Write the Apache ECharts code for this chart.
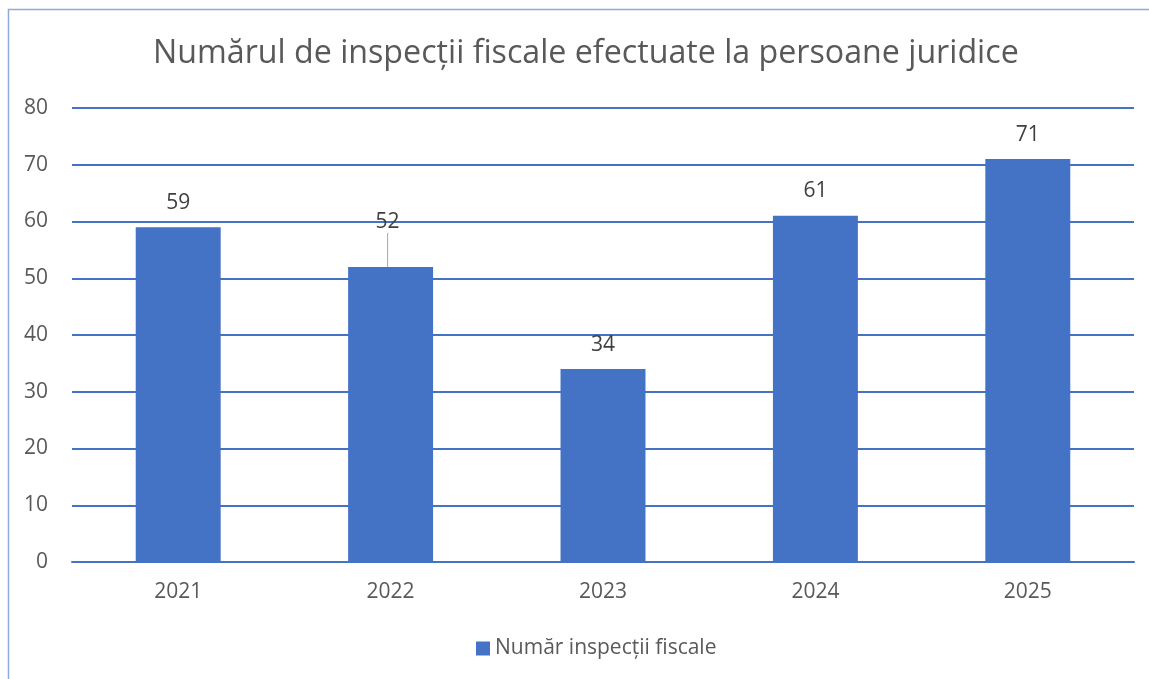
<!DOCTYPE html>
<html>
<head>
<meta charset="utf-8">
<script src="https://cdn.jsdelivr.net/npm/echarts@6/dist/echarts.min.js"></script>
<style>
  html, body { margin: 0; padding: 0; background: #fff; }
  #chart { width: 1149px; height: 679px; }
</style>
</head>
<body>
<div id="chart"></div>
<script>
// data
var years = ['2021', '2022', '2023', '2024', '2025'];
var inspectii = [59, 52, 34, 61, 71];
var yTicks = { min: 0, max: 80, step: 10 };

var myChart = echarts.init(document.getElementById('chart'));

var barData = inspectii.map(function (v, i) {
  var item = { value: v };
  // the 2022 label sits higher with a leader line
  if (i === 1) {
    item.labelLine = { show: true, lineStyle: { color: '#A6A6A6', width: 1 } };
  }
  return item;
});

var option = {
  backgroundColor: '#fff',
  textStyle: { fontFamily: 'Open Sans' },
  title: {
    text: 'Numărul de inspecții fiscale efectuate la persoane juridice',
    left: 148,
    top: 33,
    textStyle: { fontSize: 32.2, fontWeight: 'normal', color: '#595959', fontFamily: 'Open Sans' }
  },
  graphic: [{
    type: 'rect',
    shape: { x: 8.5, y: 9.5, width: 1200, height: 700 },
    style: { fill: 'none', stroke: '#8FAADC', lineWidth: 1.5 },
    silent: true
  }],
  legend: {
    bottom: 15,
    left: 471,
    itemWidth: 14,
    itemHeight: 14,
    itemGap: 6,
    icon: 'rect',
    textStyle: { fontSize: 21, color: '#595959' },
    data: ['Număr inspecții fiscale']
  },
  grid: { left: 72, right: 15, top: 108, bottom: 117, containLabel: false },
  xAxis: {
    type: 'category',
    data: years,
    axisTick: { show: false },
    axisLine: { lineStyle: { color: '#4472C4', width: 2 } },
    axisLabel: { fontSize: 21, color: '#595959', margin: 20 }
  },
  yAxis: {
    type: 'value',
    min: yTicks.min,
    max: yTicks.max,
    interval: yTicks.step,
    axisLine: { show: false },
    axisTick: { show: false },
    axisLabel: { fontSize: 21, color: '#595959', margin: 24 },
    splitLine: { lineStyle: { color: '#4472C4', width: 2 } }
  },
  series: [{
    name: 'Număr inspecții fiscale',
    type: 'bar',
    barWidth: '40%',
    itemStyle: { color: '#4472C4' },
    label: {
      show: true,
      position: 'top',
      distance: 14,
      fontSize: 21,
      color: '#404040'
    },
    labelLayout: function (params) {
      if (params.dataIndex === 1) {
        return { dy: -20, dx: -3 };
      }
    },
    data: barData
  }]
};

myChart.setOption(option);
</script>
</body>
</html>
